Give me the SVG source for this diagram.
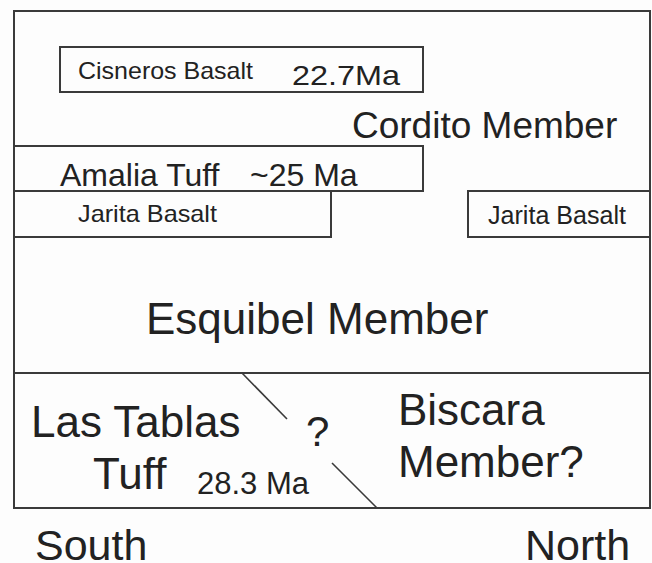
<svg xmlns="http://www.w3.org/2000/svg" width="652" height="563" viewBox="0 0 652 563">
<style>
.b{fill:none;stroke:#3a3a3a;stroke-width:2}
.d{fill:none;stroke:#3a3a3a;stroke-width:1.6}
.t{font-family:"Liberation Sans",Arial,sans-serif;fill:#222}
</style>
<rect width="652" height="563" fill="#fdfdfd"/>
<g id="frame">
<rect class="b" x="14" y="11" width="636" height="497"/>
<line class="b" x1="14" y1="373" x2="650" y2="373"/>
</g>
<g id="cisneros">
<rect class="b" x="60" y="47" width="363" height="45"/>
<text class="t" x="78" y="79" font-size="24" textLength="175" lengthAdjust="spacingAndGlyphs">Cisneros Basalt</text>
<text class="t" x="292" y="85" font-size="28" textLength="108" lengthAdjust="spacingAndGlyphs">22.7Ma</text>
</g>
<g id="cordito">
<text class="t" x="352" y="138" font-size="37">Cordito Member</text>
</g>
<g id="amalia">
<polyline class="b" points="14,146 423,146 423,191 14,191"/>
<text class="t" x="60" y="186" font-size="32">Amalia Tuff</text>
<text class="t" x="250" y="186" font-size="32">~25 Ma</text>
</g>
<g id="jarita-south">
<polyline class="b" points="14,237 331,237 331,191"/>
<text class="t" x="78" y="222" font-size="24" textLength="139" lengthAdjust="spacingAndGlyphs">Jarita Basalt</text>
</g>
<g id="jarita-north">
<polyline class="b" points="650,237 468,237 468,191 650,191"/>
<text class="t" x="488" y="224" font-size="25" textLength="138" lengthAdjust="spacingAndGlyphs">Jarita Basalt</text>
</g>
<g id="esquibel">
<text class="t" x="146" y="334" font-size="44">Esquibel Member</text>
</g>
<g id="las-tablas">
<text class="t" x="31" y="437" font-size="44">Las Tablas</text>
<text class="t" x="93" y="489" font-size="44">Tuff</text>
<text class="t" x="197" y="494" font-size="31">28.3 Ma</text>
</g>
<g id="biscara">
<text class="t" x="398" y="425" font-size="44">Biscara</text>
<text class="t" x="398" y="477" font-size="44">Member?</text>
</g>
<g id="connectors">
<line class="d" x1="242" y1="373" x2="287" y2="419"/>
<line class="d" x1="332" y1="463" x2="377" y2="508"/>
<text class="t" x="306" y="446" font-size="42">?</text>
</g>
<g id="labels">
<text class="t" x="35" y="560" font-size="43">South</text>
<text class="t" x="525" y="560" font-size="43">North</text>
</g>
</svg>
